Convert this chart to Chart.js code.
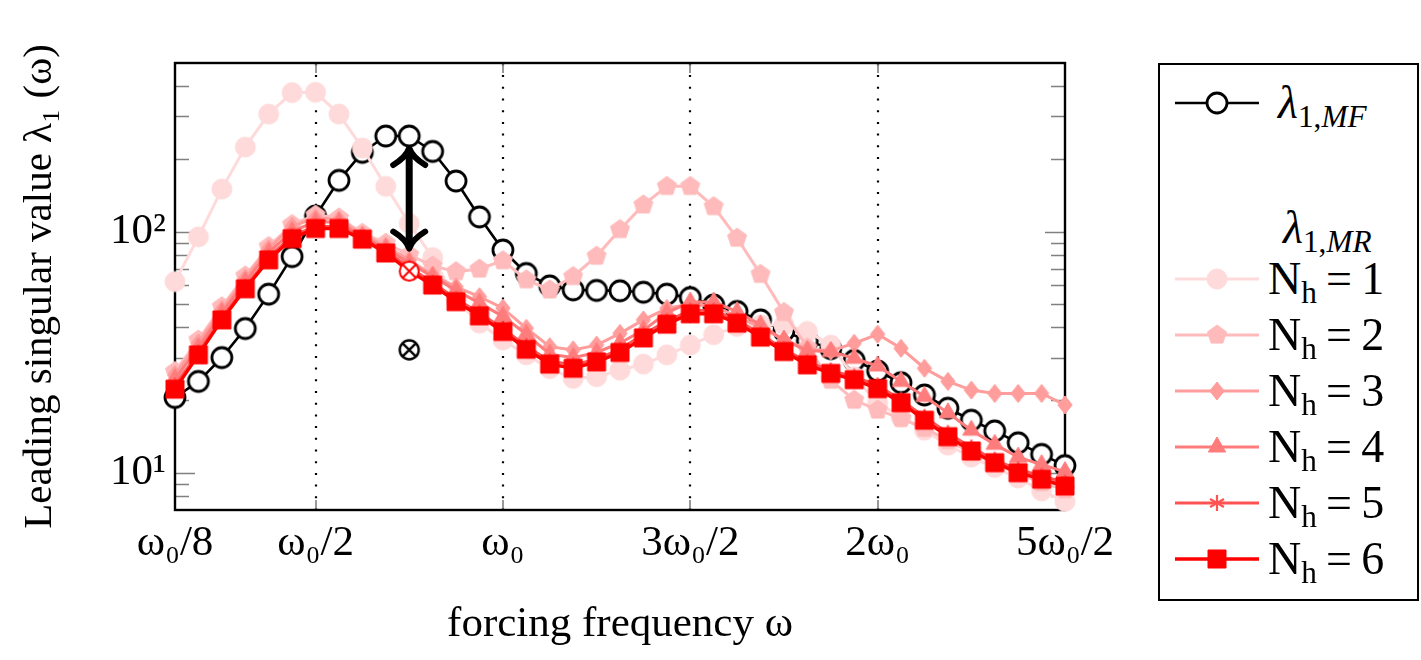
<!DOCTYPE html>
<html>
<head>
<meta charset="utf-8">
<script src="https://cdn.jsdelivr.net/npm/chart.js@4.4.0/dist/chart.umd.min.js"></script>
<style>
html,body{margin:0;padding:0;background:#fff;width:1421px;height:660px;overflow:hidden}
#c{position:absolute;left:0;top:0}
#legend{position:absolute;left:1158px;top:63px;width:257px;height:534px;border:2px solid #000;background:#fff;font-family:"Liberation Serif","Times New Roman",serif;color:#000}
.row{position:absolute;left:0;height:60px;width:257px}
.row canvas{position:absolute;left:15px;top:0}
.row .txt{position:absolute;top:0;height:60px;line-height:60px;font-size:46px;white-space:nowrap}
.it{font-style:italic}
.sub{font-size:0.68em;position:relative;top:0.3em}
</style>
</head>
<body>
<canvas id="c" width="1421" height="660"></canvas>
<div id="legend"></div>
<script>
// ---------------- data ----------------
const omega = [0.125,0.1875,0.25,0.3125,0.375,0.4375,0.5,0.5625,0.625,0.6875,0.75,0.8125,0.875,0.9375,1,1.0625,1.125,1.1875,1.25,1.3125,1.375,1.4375,1.5,1.5625,1.625,1.6875,1.75,1.8125,1.875,1.9375,2,2.0625,2.125,2.1875,2.25,2.3125,2.375,2.4375,2.5];
const lambdaMF = [20.5,23.9,30.0,39.6,55.0,78.7,116,163,213,249,249,215,162,115,83.8,67,59.5,57.3,57.0,56.8,56.0,55.0,53.2,49.6,46.6,43.0,38.7,35.2,32.7,29.2,26.4,23.6,21.0,18.5,16.5,14.9,13.3,11.9,10.7];
const mrN1 = [62,95,150,224,307,377,378,307,222,154,108,78,52,41.7,35.5,30.8,27,24.6,25,26.6,28.2,30.8,33.8,37.3,40.4,41,41,38.5,33.8,25,19.5,17,15,13,11.6,10.5,9.5,8.4,7.6];
const mrN2 = [26.3,35.5,48.8,65.5,86.7,107,117,114,98.4,89.5,80,72,68.2,69.9,75.7,63.1,57.3,65.1,79.1,102,129,154,154,127,93.9,66.5,46.2,33,24.2,20,18.2,16.8,15.3,13.6,12.1,10.9,9.9,9.1,8.5];
const mrN3 = [25.5,34.5,47.5,64,85,105,114,112,97,87,76,66,59,53.7,48.1,39.7,33.3,32.3,33.8,37.8,43,48,50,49,44.5,40,35.5,32.5,32,34.4,37.5,32.8,27.1,23.9,22,21.3,21.3,21.3,19.1];
const mrN4 = [24.5,33,46,62,82,100,110,109,95,85,74,65,57,50.5,44.5,37.5,31,30,31.5,34.5,39,46,51,51,46.5,41,35.5,32,31.8,29.8,27.7,23.9,20.7,17.7,15,13.1,11.6,10.8,10.1];
const mrN5 = [23,31.5,44,59,78,96,105,105,94,83,71,61.5,52.5,46,39.5,33.5,29,28,29.5,32.5,37.5,42.5,47,47,43,37.5,32.5,28.8,26.5,25,23,20,17,14.6,12.7,11.3,10.3,9.7,9.1];
const mrN6 = [22.2,30.8,43.0,57.9,76.3,93.5,103,103,93,81.5,68.5,60,51.2,44.7,38.5,32.5,28.2,27.1,28.8,31.5,36.2,41.3,45.6,45.6,41.7,36.5,31.8,28.0,25.8,24.3,22.3,19.5,16.5,14.1,12.3,11.0,10.0,9.4,8.8];
const n6MarkedIndex = 10;           // point of N_h = 6 drawn as a crossed circle
const otimesOmega = [0.75];         // isolated black crossed-circle mark
const otimesValue = [32.3];
const arrowOmega = 0.75;            // double arrow between MF and MR
const arrowTop = 222;
const arrowBottom = 85;

const xTickValues = [0.125, 0.5, 1, 1.5, 2, 2.5];
const xTickLabels = ['ω₀/8', 'ω₀/2', 'ω₀', '3ω₀/2', '2ω₀', '5ω₀/2'];
const gridOmega = [0.5, 1, 1.5, 2];
const yTickValues = [10, 100];
const yTickLabels = ['10¹', '10²'];
const yMinorValues = [8, 9, 20, 30, 40, 50, 60, 70, 80, 90, 200, 300, 400];
const xTitle = 'forcing frequency ω';
const yTitle = 'Leading singular value λ₁ (ω)';
const nhValues = [1, 2, 3, 4, 5, 6];

// ---------------- styles ----------------
const FONT = '"Liberation Serif", "Times New Roman", serif';
const seriesStyle = [
  {kind:'circle',   r:10,  fill:'#FFDADA', stroke:'#FFDADA', lw:1, line:'#FFDADA', lineW:3},
  {kind:'pentagon', r:10,  fill:'#FFBBBB', stroke:'#FFBBBB', lw:1, line:'#FFBBBB', lineW:3},
  {kind:'diamond',  r:9,   fill:'#FF9C9C', stroke:'#FF9C9C', lw:1, line:'#FF9C9C', lineW:3},
  {kind:'triangle', r:10,  fill:'#FF7C7C', stroke:'#FF7C7C', lw:1, line:'#FF7C7C', lineW:3},
  {kind:'star',     r:8,   fill:'#FF5252', stroke:'#FF5252', lw:2.2, line:'#FF5252', lineW:3},
  {kind:'square',   r:9,   fill:'#FF0000', stroke:'#FF0000', lw:1, line:'#FF0000', lineW:3.4}
];
const mfStyle = {kind:'circle', r:10, fill:'#FFFFFF', stroke:'#000000', lw:2.8, line:'#000000', lineW:2.6};

function drawMark(ctx, s, x, y) {
  const r = s.r;
  ctx.save();
  ctx.fillStyle = s.fill; ctx.strokeStyle = s.stroke; ctx.lineWidth = s.lw;
  ctx.lineJoin = 'miter';
  ctx.beginPath();
  if (s.kind === 'circle' || s.kind === 'otimes') {
    ctx.arc(x, y, r, 0, Math.PI * 2);
  } else if (s.kind === 'pentagon') {
    for (let i = 0; i < 5; i++) {
      const a = -Math.PI / 2 + i * 2 * Math.PI / 5;
      const px = x + r * Math.cos(a), py = y + r * Math.sin(a);
      i ? ctx.lineTo(px, py) : ctx.moveTo(px, py);
    }
    ctx.closePath();
  } else if (s.kind === 'diamond') {
    ctx.moveTo(x, y - r); ctx.lineTo(x + r * 0.8, y); ctx.lineTo(x, y + r); ctx.lineTo(x - r * 0.8, y); ctx.closePath();
  } else if (s.kind === 'triangle') {
    ctx.moveTo(x, y - r); ctx.lineTo(x + r * 0.866, y + r * 0.5); ctx.lineTo(x - r * 0.866, y + r * 0.5); ctx.closePath();
  } else if (s.kind === 'square') {
    ctx.rect(x - r, y - r, 2 * r, 2 * r);
  }
  if (s.kind === 'star') {
    for (let i = 0; i < 3; i++) {
      const a = -Math.PI / 2 + i * Math.PI / 3;
      ctx.moveTo(x + r * Math.cos(a), y + r * Math.sin(a));
      ctx.lineTo(x - r * Math.cos(a), y - r * Math.sin(a));
    }
    ctx.stroke();
  } else {
    ctx.fill(); ctx.stroke();
  }
  if (s.kind === 'otimes') {
    const d = r * 0.707;
    ctx.beginPath();
    ctx.moveTo(x - d, y - d); ctx.lineTo(x + d, y + d);
    ctx.moveTo(x + d, y - d); ctx.lineTo(x - d, y + d);
    ctx.stroke();
  }
  ctx.restore();
}
function markCanvas(s) {
  const size = Math.ceil(2 * (s.r + s.lw + 1));
  const cv = document.createElement('canvas');
  cv.width = size; cv.height = size;
  drawMark(cv.getContext('2d'), s, size / 2, size / 2);
  return cv;
}
const redOtimes = markCanvas({kind:'otimes', r:9.5, fill:'#FFFFFF', stroke:'#FF0000', lw:2});
const blackOtimes = markCanvas({kind:'otimes', r:9.5, fill:'#FFFFFF', stroke:'#000000', lw:2.4});

// ---------------- datasets ----------------
const mrSeries = [mrN1, mrN2, mrN3, mrN4, mrN5, mrN6];
function pts(arr) { return omega.map((w, i) => ({x: w, y: arr[i]})); }
function lineDs(label, arr, s, pointStyle) {
  return {
    label, data: pts(arr), borderColor: s.line, borderWidth: s.lineW, backgroundColor: s.fill,
    pointStyle: pointStyle, pointRadius: s.r, pointHoverRadius: s.r, tension: 0, clip: false, fill: false
  };
}
const datasets = [];
datasets.push({label: 'otimes', data: otimesOmega.map((w, i) => ({x: w, y: otimesValue[i]})), showLine: false,
  pointStyle: blackOtimes, pointRadius: 9, clip: false});
const mrCanv = seriesStyle.map(markCanvas);
for (let k = 5; k >= 0; k--) {
  const s = seriesStyle[k];
  let ps = mrCanv[k];
  if (k === 5) ps = (c) => (c.dataIndex === n6MarkedIndex ? redOtimes : mrCanv[5]);
  datasets.push(lineDs('N_h = ' + nhValues[k], mrSeries[k], s, ps));
}
datasets.push(lineDs('λ1,MF', lambdaMF, mfStyle, markCanvas(mfStyle)));

// ---------------- decorations plugin ----------------
const decor = {
  id: 'decor',
  beforeDatasetsDraw(chart) {
    const {ctx, chartArea: a, scales: {x, y}} = chart;
    ctx.save();
    ctx.strokeStyle = '#000'; ctx.lineWidth = 2.2; ctx.setLineDash([2, 9.7]);
    gridOmega.forEach(v => {
      const px = Math.round(x.getPixelForValue(v));
      ctx.beginPath(); ctx.moveTo(px, a.bottom); ctx.lineTo(px, a.top); ctx.stroke();
    });
    ctx.setLineDash([]);
    ctx.strokeStyle = '#808080'; ctx.lineWidth = 1.6;
    xTickValues.forEach(v => {
      const px = Math.round(x.getPixelForValue(v));
      ctx.beginPath();
      ctx.moveTo(px, a.top); ctx.lineTo(px, a.top + 10);
      ctx.moveTo(px, a.bottom); ctx.lineTo(px, a.bottom - 10);
      ctx.stroke();
    });
    const yt = (vals, len) => vals.forEach(v => {
      const py = Math.round(y.getPixelForValue(v)) + 0.5;
      ctx.beginPath();
      ctx.moveTo(a.left, py); ctx.lineTo(a.left + len, py);
      ctx.moveTo(a.right, py); ctx.lineTo(a.right - len, py);
      ctx.stroke();
    });
    yt(yMinorValues, 14);
    yt(yTickValues, 20);
    ctx.strokeStyle = '#000'; ctx.lineWidth = 2.4;
    ctx.strokeRect(a.left, a.top, a.right - a.left, a.bottom - a.top);
    ctx.restore();
  },
  afterDatasetsDraw(chart) {
    const {ctx, scales: {x, y}} = chart;
    const px = x.getPixelForValue(arrowOmega);
    const y1 = y.getPixelForValue(arrowTop), y2 = y.getPixelForValue(arrowBottom);
    ctx.save();
    ctx.strokeStyle = '#000'; ctx.lineCap = 'round'; ctx.lineJoin = 'round';
    ctx.lineWidth = 7;
    ctx.beginPath(); ctx.moveTo(px, y1 + 4); ctx.lineTo(px, y2 - 4); ctx.stroke();
    ctx.lineWidth = 6;
    ctx.beginPath();
    ctx.moveTo(px - 16, y1 + 17); ctx.quadraticCurveTo(px - 3, y1 + 9, px, y1);
    ctx.quadraticCurveTo(px + 3, y1 + 9, px + 16, y1 + 17);
    ctx.moveTo(px - 16, y2 - 17); ctx.quadraticCurveTo(px - 3, y2 - 9, px, y2);
    ctx.quadraticCurveTo(px + 3, y2 - 9, px + 16, y2 - 17);
    ctx.stroke();
    ctx.restore();
  }
};

new Chart(document.getElementById('c'), {
  type: 'line',
  data: {datasets},
  options: {
    responsive: false, animation: false, devicePixelRatio: 1,
    layout: {padding: {left: 0, right: 356, top: 63, bottom: 0}},
    plugins: {legend: {display: false}, tooltip: {enabled: false}},
    elements: {line: {borderJoinStyle: 'miter'}},
    scales: {
      x: {
        type: 'linear', min: 0.125, max: 2.5,
        afterBuildTicks: s => { s.ticks = xTickValues.map(v => ({value: v})); },
        afterFit: s => { s.height = 150; },
        ticks: {callback: (v, i) => xTickLabels[i], font: {family: FONT, size: 43}, color: '#000',
                padding: 8, maxRotation: 0, autoSkip: false},
        grid: {display: false, drawTicks: false}, border: {display: false},
        title: {display: true, text: xTitle, color: '#000', font: {family: FONT, size: 43},
                padding: {top: 0, bottom: 9}}
      },
      y: {
        type: 'logarithmic', min: 7, max: 500,
        afterBuildTicks: s => { s.ticks = yTickValues.map(v => ({value: v})); },
        afterFit: s => { s.width = 175; },
        ticks: {callback: (v, i) => yTickLabels[i], font: {family: FONT, size: 43}, color: '#000', padding: 9},
        grid: {display: false, drawTicks: false}, border: {display: false},
        title: {display: true, text: yTitle, color: '#000', font: {family: FONT, size: 41},
                padding: {top: 16, bottom: 0}}
      }
    }
  },
  plugins: [decor]
});

// ---------------- legend (HTML) ----------------
const legend = document.getElementById('legend');
function addRow(centerY, style, html, textLeft) {
  const row = document.createElement('div');
  row.className = 'row'; row.style.top = (centerY - 30) + 'px';
  if (style) {
    const cv = document.createElement('canvas'); cv.width = 84; cv.height = 60;
    const c = cv.getContext('2d');
    c.strokeStyle = style.line; c.lineWidth = style.lineW;
    c.beginPath(); c.moveTo(0, 30); c.lineTo(84, 30); c.stroke();
    drawMark(c, style, 42, 30);
    row.appendChild(cv);
  }
  const t = document.createElement('div'); t.className = 'txt'; t.style.left = textLeft + 'px';
  t.innerHTML = html; row.appendChild(t);
  legend.appendChild(row);
}
addRow(38, mfStyle, '<span class="it">λ</span><span class="sub">1,<span class="it">MF</span></span>', 118);
addRow(163, null, '<span class="it">λ</span><span class="sub">1,<span class="it">MR</span></span>', 123);
nhValues.forEach((n, i) => addRow(214 + i * 56, seriesStyle[i], 'N<span class="sub">h</span>&#8201;=&#8201;' + n, 108));
</script>
</body>
</html>
